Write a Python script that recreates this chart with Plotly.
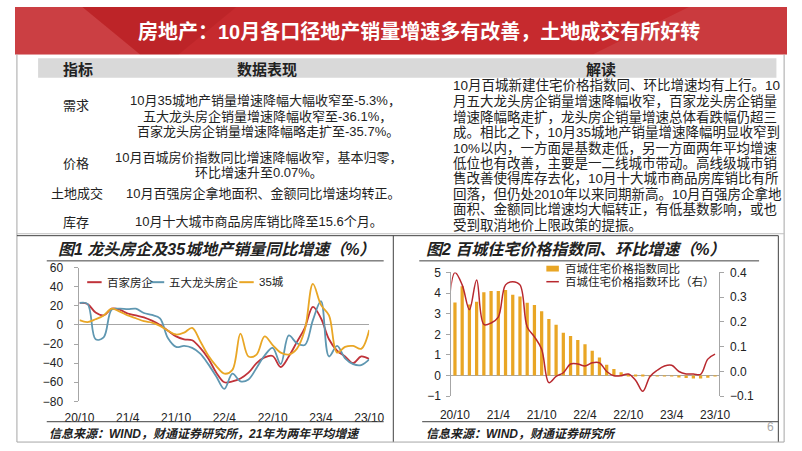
import plotly.graph_objects as go

W, H = 802, 451
def px(x): return x / W
def py(y): return 1 - y / H

FONT = "Liberation Sans, Noto Sans CJK SC, sans-serif"

# ---------------- data ----------------
months = []
yy, mm = 2020, 10
while (yy, mm) <= (2023, 10):
    months.append(f"{yy % 100}/{mm}")
    mm += 1
    if mm > 12:
        mm, yy = 1, yy + 1
months_ext = ["20/9"] + months
tick_labels = ["20/10", "21/4", "21/10", "22/4", "22/10", "23/4", "23/10"]

bai_jia = [23, 22, 13, 10, 17, 16, 12, 10, 8, 4.5, 0, -6, -12, -15, -16, -24, -35, -50, -60, -59,
           -56, -50, -40, -34, -32.5, -44, -33, -18, -3, 19, 7, -15, -27, -33, -40, -33, -35.7]
wu_da = [23, 22, -15, -13, 16, 17, 16.5, 17, 12.5, 10.5, 7, -14, -23, -22, -24, -30, -41, -54, -67, -51,
         -59, -57, -45, -32, -24, -41, -11, -19, -21, 5, 25, -33, -22, -35, -41, -42, -36.1]
city35 = [5, 3, 6, 10, 17, 14, 10, 7, 4, 2.5, -1, -6, -10, -8, -3, -17, -32, -43, -51, -47,
          -9, -33, -31, -12, -21, -29, -31, -25, -5, 43, 21, 10, -29, -23, -22, -25, -5.3]

price_yoy = [3.55, 4.33, 3.45, 3.58, 4.04, 4.1, 4.1, 4.15, 3.92, 3.84, 3.53, 3.42, 3.12, 2.75, 2.46,
             2.08, 1.92, 1.73, 1.52, 1.21, 0.88, 0.53, 0.32, 0.16, 0.07, 0.03, 0.01, -0.01, -0.01,
             -0.02, -0.03, -0.08, -0.12, -0.14, -0.14, -0.1, -0.02]
price_mom = [0.22, 0.40, 0.35, 0.25, 0.37, 0.19, 0.196, 0.22, 0.35, 0.363, 0.35, 0.18, 0.14, 0.09,
             -0.045, -0.02, -0.005, 0.03, 0.03, 0.022, 0.035, 0.035, 0.0, -0.017, -0.017, -0.01,
             -0.035, -0.08, -0.02, 0.005, 0.022, 0.025, 0.0, -0.01, -0.01, -0.012, 0.05, 0.07]

names1 = ["百家房企", "五大龙头房企", "35城"]
names2 = ["百城住宅价格指数同比", "百城住宅价格指数环比（右）"]

RED = "#C0333A"
BLUE = "#5F97B1"
GOLD = "#E9A625"
LINE2 = "#B8282E"

fig = go.Figure()

for nm, ys, col in zip(names1, [bai_jia, wu_da, city35], [RED, BLUE, GOLD]):
    fig.add_trace(go.Scatter(x=months, y=ys, name=nm, mode="lines", showlegend=False,
                             line=dict(color=col, width=1.8, shape="spline", smoothing=1.0),
                             xaxis="x", yaxis="y"))

fig.add_trace(go.Bar(x=months, y=price_yoy, name=names2[0], showlegend=False,
                     marker=dict(color=GOLD, line=dict(width=0)), xaxis="x2", yaxis="y2"))
fig.add_trace(go.Scatter(x=months_ext, y=price_mom, name=names2[1], mode="lines", showlegend=False,
                         line=dict(color=LINE2, width=1.5, shape="spline", smoothing=1.0),
                         xaxis="x2", yaxis="y3"))

axis_common = dict(showgrid=False, tickfont=dict(family=FONT, size=12, color="#222"),
                   linecolor="#A6A6A6", tickcolor="#A6A6A6")

fig.update_layout(
    width=W, height=H, margin=dict(l=0, r=0, t=0, b=0),
    paper_bgcolor="white", plot_bgcolor="rgba(0,0,0,0)",
    font=dict(family=FONT, color="#222"),
    bargap=0.55, showlegend=False,
    xaxis=dict(domain=[px(67), px(368)], type="category", categoryorder="array", categoryarray=months,
               range=[0, 36], tickmode="array", tickvals=tick_labels, ticktext=tick_labels,
               showline=False, ticks="", anchor="y", ticklabelstandoff=8, **axis_common),
    yaxis=dict(domain=[py(407), py(269)], range=[-80, 60], dtick=20, showline=True, ticks="outside",
               ticklen=4, zeroline=True, zerolinecolor="#A6A6A6", zerolinewidth=1, anchor="x",
               ticklabelstandoff=9, **axis_common),
    xaxis2=dict(domain=[px(453.3), px(731)], type="category", categoryorder="array", categoryarray=months_ext,
                range=[0.5, 37.5], tickmode="array", tickvals=tick_labels, ticktext=tick_labels,
                showline=False, ticks="", anchor="y2", ticklabelstandoff=10, **axis_common),
    yaxis2=dict(domain=[py(401.7), py(274)], range=[-1, 5], dtick=1, showline=True, ticks="outside",
                ticklen=4, zeroline=True, zerolinecolor="#A6A6A6", zerolinewidth=1, anchor="x2",
                ticklabelstandoff=3, **axis_common),
    yaxis3=dict(range=[-0.1, 0.4], dtick=0.1, tickformat=".1f", overlaying="y2", side="right",
                anchor="x2", showline=True, ticks="outside", ticklen=4, zeroline=False,
                ticklabelstandoff=4, **axis_common),
)

shapes = []
# title band
shapes.append(dict(type="rect", xref="paper", yref="paper", x0=0, x1=1, y0=py(49), y1=1,
                   fillcolor="#C62A2E", line=dict(width=0), layer="below"))
shapes.append(dict(type="path", xref="paper", yref="paper",
                   path=f"M {px(0)},{py(0)} L {px(70)},{py(0)} L {px(130)},{py(49)} L {px(0)},{py(49)} Z",
                   fillcolor="rgba(255,255,255,0.10)", line=dict(width=0), layer="below"))
shapes.append(dict(type="path", xref="paper", yref="paper",
                   path=f"M {px(70)},{py(0)} L {px(230)},{py(0)} L {px(170)},{py(49)} L {px(130)},{py(49)} Z",
                   fillcolor="rgba(120,0,0,0.12)", line=dict(width=0), layer="below"))
shapes.append(dict(type="path", xref="paper", yref="paper",
                   path=f"M {px(600)},{py(49)} L {px(700)},{py(0)} L {px(802)},{py(0)} L {px(802)},{py(49)} Z",
                   fillcolor="rgba(255,255,255,0.08)", line=dict(width=0), layer="below"))
# table header band
shapes.append(dict(type="rect", xref="paper", yref="paper", x0=px(24), x1=px(791), y0=py(73), y1=py(53),
                   fillcolor="#D9D9D9", line=dict(width=0), layer="below"))

def hline(x0, x1, y, color="#595959", w=1):
    shapes.append(dict(type="line", xref="paper", yref="paper", x0=px(x0), x1=px(x1), y0=py(y), y1=py(y),
                       line=dict(color=color, width=w)))
def vline(x, y0, y1, color="#595959", w=1):
    shapes.append(dict(type="line", xref="paper", yref="paper", x0=px(x), x1=px(x), y0=py(y0), y1=py(y1),
                       line=dict(color=color, width=w)))
vline(2, 49, 449, "#A6A6A6")
vline(799, 49, 449, "#A6A6A6")
hline(2, 799, 234, "#BFBFBF")
hline(2, 793, 236, "#404040")
vline(393, 236, 449, "#404040")
vline(793, 236, 449, "#404040")
hline(2, 799, 449, "#A6A6A6")
hline(33, 383, 262, "#404040")
hline(420, 773, 262, "#404040")
hline(33, 383, 428, "#404040")
hline(423, 793, 428, "#404040")

# legend swatches (chart 1)
for (x0, x1), col in zip([(75, 90), (140, 155), (233, 248)], [RED, BLUE, GOLD]):
    hline(x0, x1, 284, col, 2)
# legend swatches (chart 2)
shapes.append(dict(type="rect", xref="paper", yref="paper", x0=px(552), x1=px(565), y0=py(273), y1=py(267),
                   fillcolor=GOLD, line=dict(width=0)))
hline(552, 565, 283.5, LINE2, 1.5)
fig.update_layout(shapes=shapes)

ann = []
def text(x, y, s, size=13, color="#222", anchor="left", bold=False, italic=False):
    ann.append(dict(xref="paper", yref="paper", x=px(x), y=py(y), text=s, showarrow=False,
                    xanchor=anchor, yanchor="middle",
                    font=dict(family=FONT, size=size, color=color,
                              weight="bold" if bold else "normal",
                              style="italic" if italic else "normal")))

text(420, 25, "房地产：10月各口径地产销量增速多有改善，土地成交有所好转", size=20, color="white",
     anchor="center", bold=True)

text(65, 64, "指标", size=15, anchor="center", bold=True)
text(262, 64, "数据表现", size=15, anchor="center", bold=True)
text(609, 64, "解读", size=15, anchor="center", bold=True)

text(63, 102, "需求", anchor="center")
text(63, 162, "价格", anchor="center")
text(64, 192, "土地成交", anchor="center")
text(63, 222, "库存", anchor="center")

text(260, 97, "10月35城地产销量增速降幅大幅收窄至-5.3%，", anchor="center")
text(262, 112.5, "五大龙头房企销量增速降幅收窄至-36.1%，", anchor="center")
text(263, 128.5, "百家龙头房企销量增速降幅略走扩至-35.7%。", anchor="center")
text(253, 155, "10月百城房价指数同比增速降幅收窄，基本归零，", anchor="center")
text(254, 170.5, "环比增速升至0.07%。", anchor="center")
text(258, 192, "10月百强房企拿地面积、金额同比增速均转正。", anchor="center")
text(254, 221, "10月十大城市商品房库销比降至15.6个月。", anchor="center")

right_lines = [
    "10月百城新建住宅价格指数同、环比增速均有上行。10",
    "月五大龙头房企销量增速降幅收窄，百家龙头房企销量",
    "增速降幅略走扩，龙头房企销量增速总体看跌幅仍超三",
    "成。相比之下，10月35城地产销量增速降幅明显收窄到",
    "10%以内，一方面是基数走低，另一方面两年平均增速",
    "低位也有改善，主要是一二线城市带动。高线级城市销",
    "售改善使得库存去化，10月十大城市商品房库销比有所",
    "回落，但仍处2010年以来同期新高。10月百强房企拿地",
    "面积、金额同比增速均大幅转正，有低基数影响，或也",
    "受到取消地价上限政策的提振。",
]
for i, s in enumerate(right_lines):
    text(453, 81.5 + i * 15.9, s, size=13.5)

# legend texts
text(94, 284, names1[0], size=11.5)
text(158, 284, names1[1], size=11.5)
text(251, 284, names1[2], size=11.5)
text(569, 270, names2[0], size=11.5)
text(569, 283.5, names2[1], size=11.5)

text(43, 250, "图1 龙头房企及35城地产销量同比增速（%）", size=16, bold=True, italic=True)
text(425, 250, "图2 百城住宅价格指数同、环比增速（%）", size=16, bold=True, italic=True)
text(33, 440.5, "信息来源：WIND，财通证券研究所，21年为两年平均增速", size=12, bold=True, italic=True)
text(425, 440.5, "信息来源：WIND，财通证券研究所", size=12, bold=True, italic=True)
text(785, 433, "6", size=12, color="#A6A6A6", anchor="center")

fig.update_layout(annotations=ann)
fig.write_html("out.html")
